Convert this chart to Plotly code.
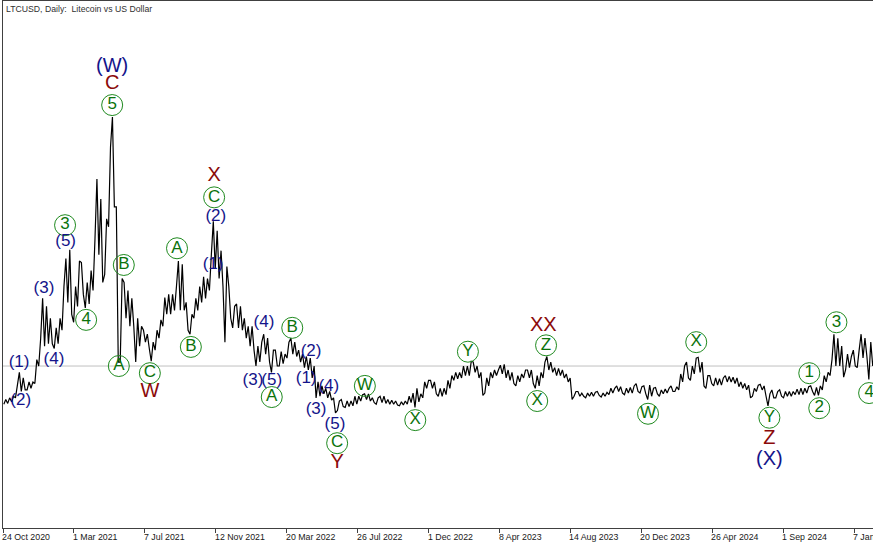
import pandas as pd
import plotly.graph_objects as go

# weekly price ranges (LTCUSD), first week starting 24 Oct 2020
wk_low = [52, 53, 55, 60, 68, 70, 70, 72, 78, 100,
          125, 128, 128, 122, 128, 145, 180, 165, 155, 175,
          190, 173, 178, 195, 240, 205, 215, 275, 300, 105,
          105, 160, 150, 150, 105, 125, 130, 122, 106, 120,
          135, 150, 165, 165, 170, 170, 170, 145, 140, 160,
          170, 180, 185, 195, 222, 210, 200, 130, 160, 148,
          148, 145, 135, 125, 120, 100, 105, 115, 105, 92,
          100, 100, 103, 110, 115, 112, 105, 98, 95, 85,
          60, 62, 65, 60, 57, 41, 44, 49, 48, 49,
          50, 52, 56, 58, 56, 54, 52, 54, 53, 52,
          52, 51, 50, 51, 52, 54, 48, 55, 60, 72,
          72, 65, 62, 62, 64, 72, 82, 84, 85, 88,
          88, 92, 85, 63, 66, 75, 85, 88, 90, 85,
          82, 78, 75, 80, 85, 85, 78, 72, 75, 85,
          95, 92, 88, 88, 85, 80, 58, 62, 62, 62,
          60, 62, 62, 63, 61, 62, 64, 66, 68, 66,
          64, 66, 66, 68, 66, 65, 58, 62, 65, 62,
          65, 66, 68, 68, 70, 80, 85, 82, 90, 92,
          75, 72, 78, 75, 76, 76, 80, 80, 78, 74,
          72, 70, 60, 62, 68, 70, 62, 50, 60, 60,
          62, 60, 62, 62, 64, 64, 64, 66, 68, 63,
          63, 70, 80, 88, 100, 100, 86, 95, 98, 100,
          98, 110, 112, 83, 100]
wk_high = [58, 60, 62, 78, 92, 85, 80, 80, 108, 135,
           185, 175, 160, 148, 160, 200, 235, 246, 200, 232,
           230, 205, 220, 260, 335, 310, 285, 375, 413, 300,
           210, 205, 195, 185, 160, 150, 145, 140, 130, 145,
           158, 186, 190, 190, 200, 232, 228, 180, 165, 185,
           200, 212, 210, 240, 282, 270, 245, 225, 200, 175,
           178, 175, 160, 150, 150, 125, 130, 140, 135, 120,
           120, 118, 115, 130, 135, 130, 120, 115, 112, 110,
           100, 80, 75, 72, 68, 60, 56, 58, 56, 56,
           62, 62, 64, 65, 65, 60, 60, 62, 62, 58,
           57, 56, 55, 56, 62, 66, 72, 65, 80, 82,
           82, 80, 72, 72, 82, 88, 92, 92, 100, 100,
           106, 105, 100, 92, 85, 92, 95, 95, 101, 102,
           95, 92, 88, 90, 95, 95, 95, 88, 92, 105,
           112, 105, 98, 97, 95, 90, 85, 68, 68, 66,
           66, 67, 67, 68, 66, 67, 72, 72, 75, 74,
           72, 73, 75, 78, 74, 75, 76, 72, 73, 70,
           71, 72, 75, 74, 90, 100, 105, 100, 110, 111,
           105, 88, 88, 85, 84, 85, 88, 87, 86, 85,
           80, 78, 76, 72, 76, 77, 75, 65, 70, 68,
           70, 68, 68, 68, 71, 72, 72, 74, 75, 73,
           75, 88, 92, 108, 140, 135, 125, 115, 112, 120,
           120, 140, 135, 130, 115]
last_price = 100

tick_dates = ["2020-10-24", "2021-03-01", "2021-07-07", "2021-11-12", "2022-03-20",
              "2022-07-26", "2022-12-01", "2023-04-08", "2023-08-14", "2023-12-20",
              "2024-04-26", "2024-09-01", "2025-01-07"]
tick_labels = ["24 Oct 2020", "1 Mar 2021", "7 Jul 2021", "12 Nov 2021", "20 Mar 2022",
               "26 Jul 2022", "1 Dec 2022", "8 Apr 2023", "14 Aug 2023", "20 Dec 2023",
               "26 Apr 2024", "1 Sep 2024", "7 Jan 2025"]

# Elliott wave labels
circ_dates = ["2021-05-09", "2021-11-09", "2021-09-03", "2021-05-30", "2021-09-28",
              "2021-05-21", "2021-07-16", "2021-02-13", "2021-03-23", "2022-03-30",
              "2022-02-21", "2022-06-19", "2022-08-08", "2022-11-07", "2023-02-10",
              "2023-07-01", "2023-06-15", "2024-01-01", "2024-03-28", "2024-08-07",
              "2024-10-18", "2024-11-05", "2024-12-06", "2025-02-03", "2025-02-26"]
circ_prices = [428, 312, 248, 227, 124, 100, 91, 277, 158, 148,
               61, 3, 75, 32, 118, 126, 56, 40, 130, 35,
               91, 47, 155, 66, 149]
circ_texts = ["5", "C", "A", "B", "B", "A", "C", "3", "4", "B",
              "A", "C", "W", "X", "Y", "Z", "X", "W", "X", "Y",
              "1", "2", "3", "4", "5"]

minor_dates = ["2021-11-12", "2021-11-07", "2021-02-14", "2021-01-06", "2021-01-24",
               "2020-11-22", "2020-11-25", "2022-02-07", "2022-05-03", "2022-01-18",
               "2022-02-21", "2022-04-24", "2022-06-04", "2022-05-12", "2022-06-15"]
minor_prices = [287, 227, 256, 197, 108, 104, 56, 154, 118, 82, 81, 84, 74, 45, 26]
minor_texts = ["(2)", "(1)", "(5)", "(3)", "(4)", "(1)", "(2)", "(4)", "(2)", "(3)",
               "(5)", "(1)", "(4)", "(3)", "(5)"]

major_dates = ["2021-05-09", "2024-08-07"]
major_prices = [476, -18]
major_texts = ["(W)", "(X)"]

red_dates = ["2021-05-09", "2021-11-09", "2021-07-16", "2022-06-19", "2023-06-26",
             "2024-08-07", "2025-02-21"]
red_prices = [454, 339, 67, -22, 150, 8, 169]
red_texts = ["C", "X", "W", "Y", "XX", "Z", "A"]

# zigzag through each week's high and low
starts = pd.date_range("2020-10-24", periods=len(wk_high), freq="7D")
px_x, px_y = [], []
for i, d in enumerate(starts):
    mid = (wk_high[i] + wk_low[i]) / 2
    nxt = (wk_high[i + 1] + wk_low[i + 1]) / 2 if i + 1 < len(wk_high) else mid
    pair = (wk_high[i], wk_low[i]) if nxt < mid else (wk_low[i], wk_high[i])
    px_x += [d + pd.Timedelta(hours=36), d + pd.Timedelta(hours=120)]
    px_y += list(pair)

fig = go.Figure()
fig.add_trace(go.Scatter(x=px_x, y=px_y, mode="lines",
                         line=dict(color="black", width=1.2), hoverinfo="skip"))

fig.add_trace(go.Scatter(x=circ_dates, y=circ_prices, text=circ_texts, mode="markers+text",
                         marker=dict(symbol="circle-open", size=21,
                                     line=dict(color="#1f8a1f", width=1), color="#1f8a1f"),
                         textposition="middle center", cliponaxis=False,
                         textfont=dict(family="Liberation Sans", size=17, color="#0b730b")))
fig.add_trace(go.Scatter(x=minor_dates, y=minor_prices, text=minor_texts, mode="text",
                         textposition="middle center", cliponaxis=False,
                         textfont=dict(family="Liberation Sans", size=17, color="#14148a")))
fig.add_trace(go.Scatter(x=major_dates, y=major_prices, text=major_texts, mode="text",
                         textposition="middle center", cliponaxis=False,
                         textfont=dict(family="Liberation Sans", size=20, color="#14148a")))
fig.add_trace(go.Scatter(x=red_dates, y=red_prices, text=red_texts, mode="text",
                         textposition="middle center", cliponaxis=False,
                         textfont=dict(family="Liberation Sans", size=20, color="#8b0a0a")))

fig.add_hline(y=last_price, line=dict(color="#c0c0c0", width=1), layer="below")

fig.add_annotation(text="LTCUSD, Daily:  Litecoin vs US Dollar", xref="paper", yref="paper",
                   x=0, y=1, xanchor="left", yanchor="top", xshift=1, yshift=-1,
                   showarrow=False, font=dict(family="Liberation Sans", size=8.7, color="#303030"))
for d, t in zip(tick_dates, tick_labels):
    fig.add_annotation(text=t, x=d, xref="x", y=0, yref="paper", xanchor="left",
                       yanchor="top", xshift=-3, yshift=-2, showarrow=False,
                       font=dict(family="Liberation Sans", size=8.8, color="#202020"))

fig.update_layout(
    width=873, height=545,
    margin=dict(l=3, r=0, t=1, b=17),
    paper_bgcolor="white", plot_bgcolor="white",
    showlegend=False,
)
fig.update_xaxes(type="date", range=["2020-10-24", "2025-02-10"],
                 tickvals=tick_dates, showticklabels=False, ticks="outside",
                 ticklen=4, tickcolor="#404040", showgrid=False, zeroline=False,
                 showline=True, linecolor="#404040", linewidth=1, mirror=True)
fig.update_yaxes(range=[-103.6, 558.8], showticklabels=False, showgrid=False,
                 zeroline=False, showline=True, linecolor="#404040", linewidth=1)

fig.write_html("out.html", config={"displayModeBar": False},
               post_script="document.body.style.margin='0';document.body.style.overflow='hidden';")
